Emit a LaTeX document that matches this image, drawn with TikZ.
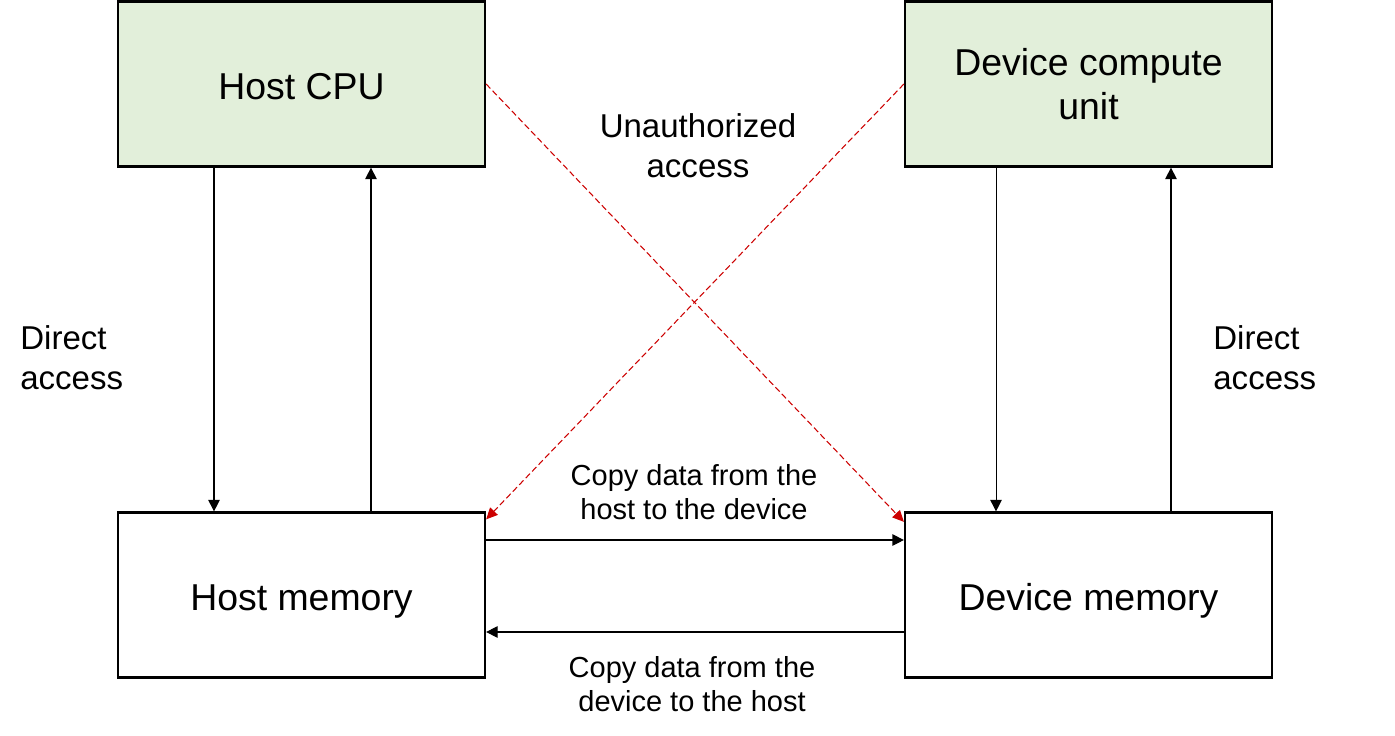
\documentclass[tikz,border=0pt]{standalone}
\usepackage{fontspec}
\setmainfont{Liberation Sans}
\usetikzlibrary{arrows.meta}
\definecolor{unitgreen}{RGB}{226,239,218}
\definecolor{alarmred}{RGB}{204,0,0}
\newcommand*{\linestrut}{\rule[-0.212em]{0pt}{1.235em}}
\begin{document}
\begin{tikzpicture}[x=0.02cm, y=-0.02cm,
    box/.style      = {draw, line width=1.3pt, minimum width=7.34cm,
                       minimum height=3.3cm, align=center, inner sep=0pt,
                       font=\fontsize{21.3}{25}\selectfont},
    oneline/.style  = {execute at begin node=\linestrut,
                       execute at end node=\linestrut},
    unit/.style     = {box, fill=unitgreen},
    conn/.style     = {line width=0.6pt, -{Triangle[length=6.5pt, width=6.5pt]}},
    breach/.style   = {alarmred, line width=0.6pt, dash pattern=on 3.5pt off 1.8pt,
                       -{Triangle[length=6.5pt, width=6pt]}},
    note/.style     = {align=left, inner sep=0pt,
                       font=\fontsize{18.8}{22.7}\selectfont},
    copynote/.style = {align=center, inner sep=0pt,
                       font=\fontsize{16.5}{19.3}\selectfont},
  ]
  \useasboundingbox (0,0) rectangle (1395,736);
  % processing units
  \node[unit, oneline] (cpu) at (301.5,84) {Host CPU};
  \node[unit] (dcu) at (1088.5,84) {Device compute\\unit};
  % memories
  \node[box, oneline] (hmem) at (301.5,595) {Host memory};
  \node[box, oneline] (dmem) at (1088.5,595) {Device memory};
  % direct access
  \draw[conn] ([xshift=-1.75cm]cpu.south) -- ([xshift=-1.75cm]hmem.north);
  \draw[conn] ([xshift=1.39cm]hmem.north) -- ([xshift=1.39cm]cpu.south);
  \draw[conn] ([xshift=-1.85cm]dcu.south) -- ([xshift=-1.85cm]dmem.north);
  \draw[conn] ([xshift=1.65cm]dmem.north) -- ([xshift=1.65cm]dcu.south);
  % copies
  \draw[conn] ([yshift=1.1cm]hmem.east) -- ([yshift=1.1cm]dmem.west);
  \draw[conn] ([yshift=-0.74cm]dmem.west) -- ([yshift=-0.74cm]hmem.east);
  % unauthorized access
  \draw[breach] (cpu.east) -- ([yshift=-0.21cm]dmem.north west);
  \draw[breach] (dcu.west) -- ([yshift=-0.16cm]hmem.north east);
  \node[note, align=center] (unauth) at (698,146) {Unauthorized\\access};
  \node[note, anchor=west] (hdirect) at (20,358) {Direct\\access};
  \node[note, anchor=west] (ddirect) at (1213,358) {Direct\\access};
  \node[copynote] (h2d) at (694,492) {Copy data from the\\host to the device};
  \node[copynote] (d2h) at (692,684) {Copy data from the\\device to the host};
\end{tikzpicture}
\end{document}
